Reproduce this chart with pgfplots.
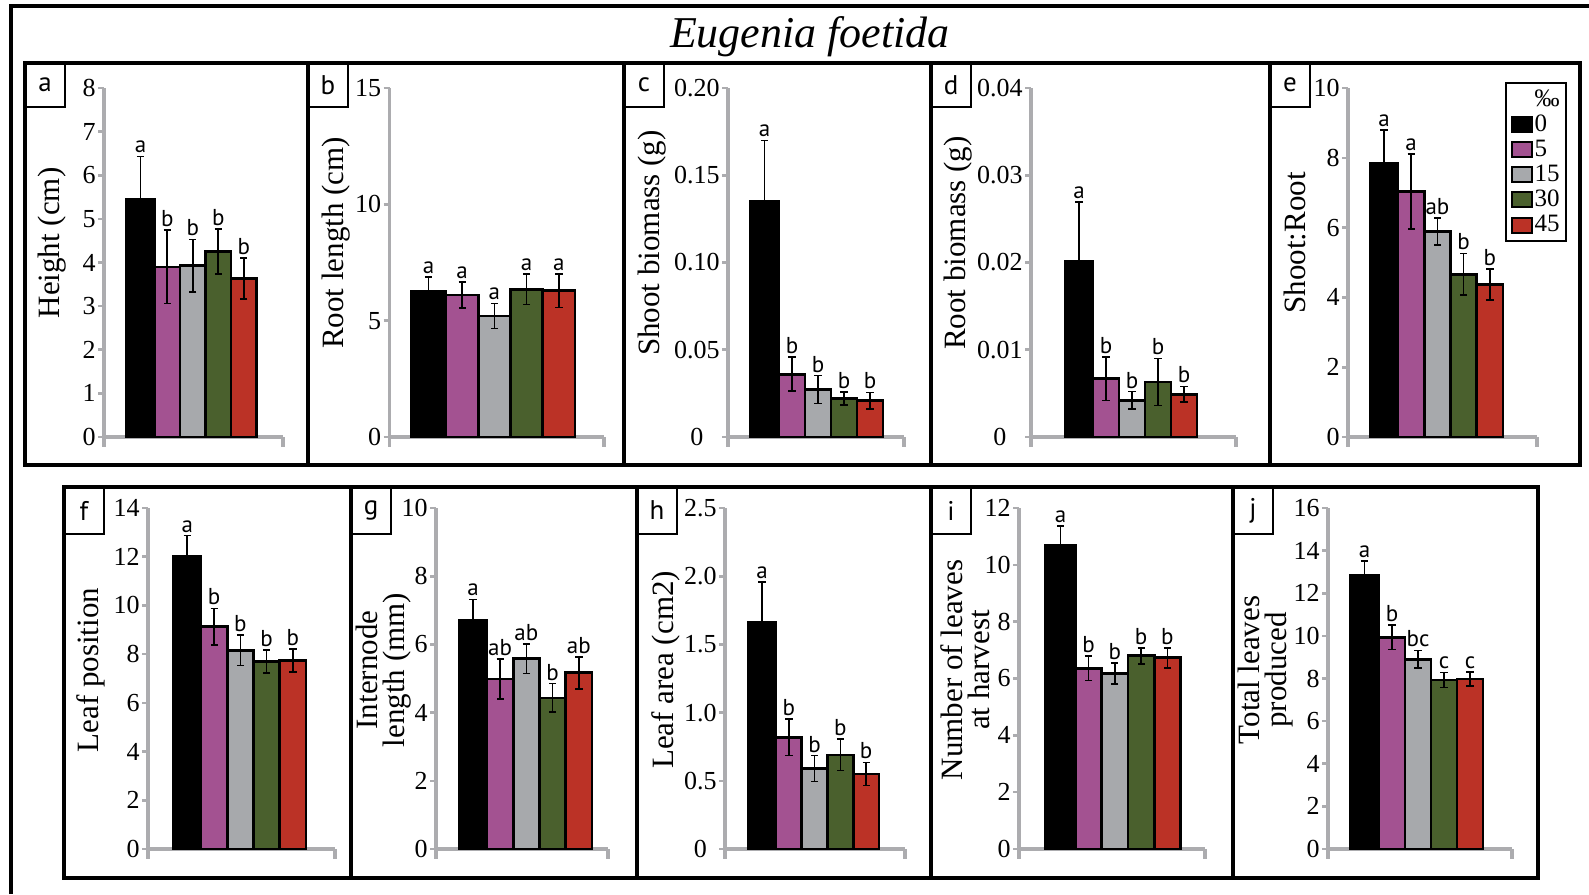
\documentclass[border=0pt]{standalone}
\usepackage{fontspec}
\setmainfont{Liberation Serif}
\newfontfamily\sansf{PT Sans}
\usepackage{pgfplots}
\pgfplotsset{compat=1.18}

\definecolor{cpur}{RGB}{163,82,145}
\definecolor{cgry}{RGB}{167,169,172}
\definecolor{cgrn}{RGB}{74,96,45}
\definecolor{cred}{RGB}{187,50,38}
\definecolor{axgrey}{RGB}{172,172,175}

\newcommand\tickfont{\fontsize{13}{13}\selectfont}
\newcommand\labfont{\fontsize{15.5}{13.5}\selectfont}
\newcommand\letfont{\sansf\fontsize{11.5}{11.5}\selectfont}
\newcommand\boxfont{\sansf\fontsize{13.5}{13.5}\selectfont}

\pgfplotsset{
  swatch legend/.style={legend image code/.code={\draw[##1, line width=1pt] (0pt,-3.75pt) rectangle (10pt,3.75pt);}},
  panel/.style={scale only axis, clip=false, xmin=0, ymin=0,
    axis x line*=bottom, axis y line*=left,
    axis line style={draw=axgrey, line width=1.6pt, -},
    xtick=\empty, ytick style={draw=axgrey, line width=1.3pt},
    tick align=outside, major tick length=3pt,
    scaled y ticks=false,
    yticklabel style={font=\tickfont, inner sep=1pt},
    ylabel style={font=\labfont, align=center, anchor=center},
  },
}

\newcommand\yu{1pt}
\newcommand\B[6]{\addplot[ybar, bar shift=0pt, bar width=#2, fill=#1, draw=black, line width=1.35pt, swatch legend,
  nodes near coords={#6}, every node near coord/.append style={font=\letfont, anchor=south, inner sep=1pt, yshift={#5*\yu}, black},
  error bars/.cd, y dir=both, y explicit, error bar style={line width=0.85pt, black},
  error mark options={black, line width=0.85pt, mark size=1.8pt, rotate=90}]
  coordinates {(#3,#4) +- (0,#5)};}
\newcommand\AX[1]{\draw[axgrey, line width=1.6pt] (axis cs:0,0) -- ++(0,-5pt);
  \draw[axgrey, line width=1.6pt] (axis cs:#1,0) -- ++(0,-5pt);}

\begin{document}
\begin{tikzpicture}
\begin{scope}[x=0.5pt,y=-0.5pt]
\useasboundingbox (0,0) rectangle (1589,894);
\draw[line width=2pt] (11,894) -- (11,6) -- (1589,6);
\node[font=\fontsize{22}{22}\selectfont\itshape, anchor=base] at (810,47) {Eugenia foetida};
\draw[line width=2.2pt] (25,63) rectangle (1580,465);
\foreach \x in {308,624,931,1270} \draw[line width=2.2pt] (\x,63) -- (\x,465);
\draw[line width=2.2pt] (64,487) rectangle (1538,878);
\foreach \x in {351,637,931,1233} \draw[line width=2.2pt] (\x,487) -- (\x,878);
\foreach \x/\l in {25/a,308/b,624/c,931/d,1270/e}{
  \draw[line width=0.8pt] (\x,63) rectangle ++(40,44);
  \node[font=\boxfont] at (\x+20,85) {\l};}
\foreach \x/\l in {64/f,351/g,637/h,931/i,1233/j}{
  \draw[line width=0.8pt] (\x,487) rectangle ++(40,47);
  \node[font=\boxfont] at (\x+20,510.5) {\l};}
\end{scope}

% ---- a
\renewcommand\yu{21.8125pt}
\begin{axis}[panel, at={(52pt,-218.5pt)}, anchor=south west, width=89.5pt, height=174.5pt,
  xmax=179, ymax=8, ytick={0,1,2,3,4,5,6,7,8}, yticklabels={0,1,2,3,4,5,6,7,8},
  ylabel={Height (cm)}, ylabel style={at={(axis description cs:-0.291,0.556)}}]
\B{black}{28}{36.5}{5.45}{0.98}{a}
\B{cpur}{25.5}{63.25}{3.90}{0.84}{b}
\B{cgry}{25.5}{88.75}{3.93}{0.60}{b}
\B{cgrn}{25.5}{114.25}{4.25}{0.52}{b}
\B{cred}{25.5}{139.75}{3.63}{0.47}{b}
\AX{179}
\end{axis}

% ---- b
\renewcommand\yu{11.6333pt}
\begin{axis}[panel, at={(194.75pt,-218.5pt)}, anchor=south west, width=107.25pt, height=174.5pt,
  xmax=214.5, ymax=15, ytick={0,5,10,15}, yticklabels={0,5,10,15},
  ylabel={Root length (cm)}, ylabel style={at={(axis description cs:-0.249,0.556)}}]
\B{black}{35}{39}{6.25}{0.64}{a}
\B{cpur}{32.25}{72.6}{6.10}{0.55}{a}
\B{cgry}{32.25}{104.9}{5.20}{0.54}{a}
\B{cgrn}{32.25}{137.1}{6.35}{0.66}{a}
\B{cred}{32.25}{169.4}{6.29}{0.72}{a}
\AX{214.5}
\end{axis}

% ---- c
\renewcommand\yu{872.5pt}
\begin{axis}[panel, at={(364pt,-218.5pt)}, anchor=south west, width=88pt, height=174.5pt,
  xmax=176, ymax=0.2, ytick={0,0.05,0.1,0.15,0.2}, yticklabels={\makebox[1.75em][c]{0},0.05,0.10,0.15,0.20},
  ylabel={Shoot biomass (g)}, ylabel style={at={(axis description cs:-0.432,0.556)}}]
\B{black}{29}{36.5}{0.135}{0.035}{a}
\B{cpur}{26}{64}{0.036}{0.0098}{b}
\B{cgry}{26}{90}{0.0272}{0.008}{b}
\B{cgrn}{26}{116}{0.0221}{0.0036}{b}
\B{cred}{26}{142}{0.0208}{0.0047}{b}
\AX{176}
\end{axis}

% ---- d
\renewcommand\yu{4362.5pt}
\begin{axis}[panel, at={(515.5pt,-218.5pt)}, anchor=south west, width=102.5pt, height=174.5pt,
  xmax=205, ymax=0.04, ytick={0,0.01,0.02,0.03,0.04}, yticklabels={\makebox[1.75em][c]{0},0.01,0.02,0.03,0.04},
  ylabel={Root biomass (g)}, ylabel style={at={(axis description cs:-0.356,0.556)}}]
\B{black}{28}{48}{0.0201}{0.0068}{a}
\B{cpur}{26}{75}{0.0067}{0.0025}{b}
\B{cgry}{26}{101}{0.0042}{0.0010}{b}
\B{cgrn}{26}{127}{0.0063}{0.0027}{b}
\B{cred}{26}{153}{0.0049}{0.0009}{b}
\AX{205}
\end{axis}

% ---- e
\renewcommand\yu{17.45pt}
\begin{axis}[panel, at={(674pt,-218.5pt)}, anchor=south west, width=94.5pt, height=174.5pt,
  xmax=189, ymax=10, ytick={0,2,4,6,8,10}, yticklabels={0,2,4,6,8,10},
  ylabel={Shoot:Root}, ylabel style={at={(axis description cs:-0.280,0.556)}},
  legend style={at={(axis description cs:0.831,1.017)}, anchor=north west, draw=black, line width=0.9pt,
    font=\fontsize{12.5}{12.5}\selectfont, row sep=1.2pt, inner sep=2.5pt, nodes={inner sep=0.8pt}},
  legend cell align=left, legend entries={‰,0,5,15,30,45}]
\addlegendimage{empty legend}
\B{black}{28}{36}{7.83}{0.97}{a}
\B{cpur}{26.25}{63.1}{7.04}{1.07}{a}
\B{cgry}{26.25}{89.4}{5.89}{0.38}{ab}
\B{cgrn}{26.25}{115.6}{4.66}{0.60}{b}
\B{cred}{26.25}{141.9}{4.37}{0.44}{b}
\AX{189}
\end{axis}

% ---- f
\renewcommand\yu{12.1786pt}
\begin{axis}[panel, at={(74pt,-424.5pt)}, anchor=south west, width=93.5pt, height=170.5pt,
  xmax=187, ymax=14, ytick={0,2,4,6,8,10,12,14}, yticklabels={0,2,4,6,8,10,12,14},
  ylabel={Leaf position}, ylabel style={at={(axis description cs:-0.305,0.525)}}]
\B{black}{27.5}{39.25}{12.0}{0.87}{a}
\B{cpur}{26.25}{66.1}{9.13}{0.75}{b}
\B{cgry}{26.25}{92.4}{8.16}{0.63}{b}
\B{cgrn}{26.25}{118.6}{7.69}{0.47}{b}
\B{cred}{26.25}{144.9}{7.73}{0.47}{b}
\AX{187}
\end{axis}

% ---- g
\renewcommand\yu{17.05pt}
\begin{axis}[panel, at={(218pt,-424.5pt)}, anchor=south west, width=86pt, height=170.5pt,
  xmax=172, ymax=10, ytick={0,2,4,6,8,10}, yticklabels={0,2,4,6,8,10},
  ylabel={Internode\\length (mm)}, ylabel style={at={(axis description cs:-0.302,0.525)}}]
\B{black}{28}{37}{6.71}{0.61}{a}
\B{cpur}{26.25}{64.1}{4.99}{0.59}{ab}
\B{cgry}{26.25}{90.4}{5.58}{0.43}{ab}
\B{cgrn}{26.25}{116.6}{4.43}{0.42}{b}
\B{cred}{26.25}{142.9}{5.17}{0.47}{ab}
\AX{172}
\end{axis}

% ---- h
\renewcommand\yu{68.2pt}
\begin{axis}[panel, at={(362.5pt,-424.5pt)}, anchor=south west, width=90pt, height=170.5pt,
  xmax=180, ymax=2.5, ytick={0,0.5,1,1.5,2,2.5}, yticklabels={\makebox[1.25em][c]{0},0.5,1.0,1.5,2.0,2.5},
  ylabel={Leaf area (cm2)}, ylabel style={at={(axis description cs:-0.328,0.525)}}]
\B{black}{28}{37}{1.66}{0.30}{a}
\B{cpur}{25.75}{63.9}{0.82}{0.135}{b}
\B{cgry}{25.75}{89.6}{0.59}{0.095}{b}
\B{cgrn}{25.75}{115.4}{0.69}{0.115}{b}
\B{cred}{25.75}{141.1}{0.55}{0.085}{b}
\AX{180}
\end{axis}

% ---- i
\renewcommand\yu{14.2083pt}
\begin{axis}[panel, at={(509.5pt,-424.5pt)}, anchor=south west, width=93pt, height=170.5pt,
  xmax=186, ymax=12, ytick={0,2,4,6,8,10,12}, yticklabels={0,2,4,6,8,10,12},
  ylabel={Number of leaves\\at harvest}, ylabel style={at={(axis description cs:-0.290,0.525)}}]
\B{black}{29.8}{41.5}{10.70}{0.67}{a}
\B{cpur}{26.3}{69.5}{6.36}{0.43}{b}
\B{cgry}{26.3}{95.8}{6.18}{0.37}{b}
\B{cgrn}{26.3}{122.1}{6.80}{0.28}{b}
\B{cred}{26.3}{148.4}{6.73}{0.35}{b}
\AX{186}
\end{axis}

% ---- j
\renewcommand\yu{10.65625pt}
\begin{axis}[panel, at={(664pt,-424.5pt)}, anchor=south west, width=92pt, height=170.5pt,
  xmax=184, ymax=16, ytick={0,2,4,6,8,10,12,14,16}, yticklabels={0,2,4,6,8,10,12,14,16},
  ylabel={Total leaves\\produced}, ylabel style={at={(axis description cs:-0.337,0.525)}}]
\B{black}{29}{36.5}{12.86}{0.67}{a}
\B{cpur}{26}{64}{9.93}{0.57}{b}
\B{cgry}{26}{90}{8.90}{0.41}{bc}
\B{cgrn}{26}{116}{7.93}{0.35}{c}
\B{cred}{26}{142}{7.98}{0.32}{c}
\AX{184}
\end{axis}
\end{tikzpicture}
\end{document}
